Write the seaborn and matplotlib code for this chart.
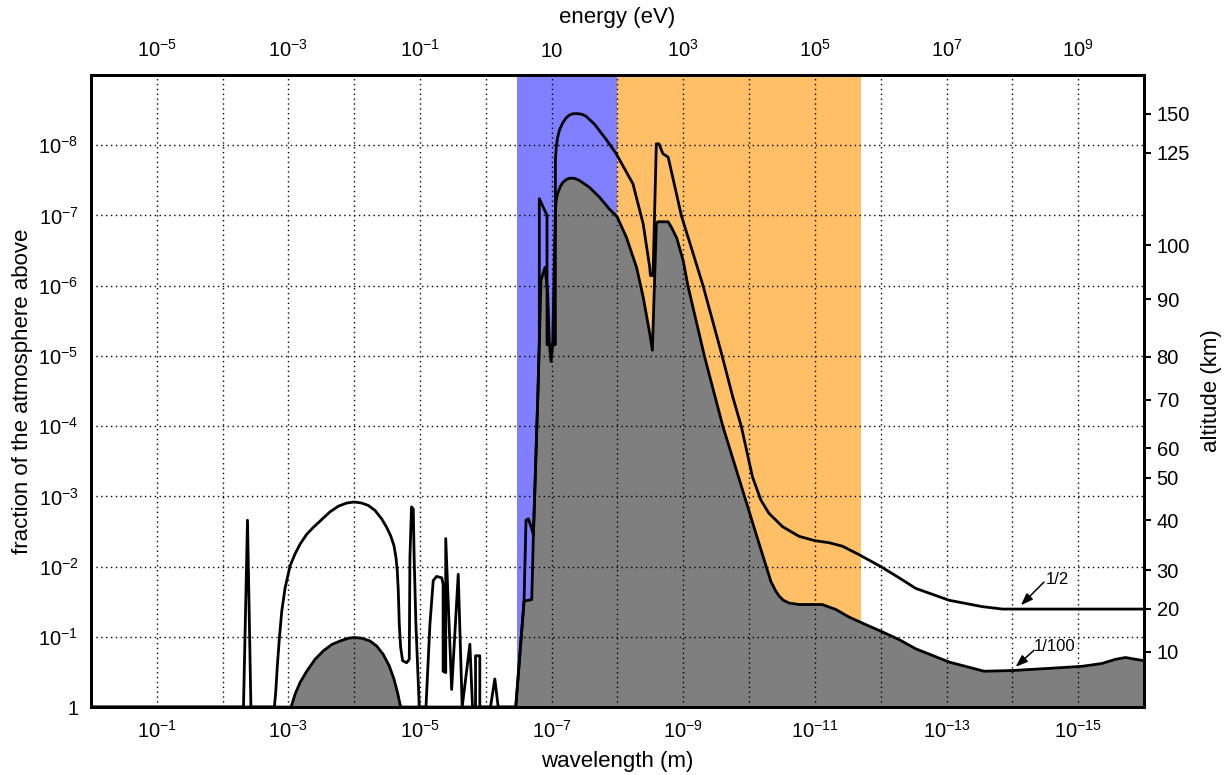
import numpy as np
import matplotlib
matplotlib.use("Agg")
import matplotlib.pyplot as plt
from matplotlib.ticker import NullLocator
import seaborn as sns

# ---------------- data ----------------
# log10 of wavelength (m) and log10 of fraction of the atmosphere above
half_log_wavelength = [
    0.0, -2.317, -2.378, -2.43,
    -2.787, -2.808, -2.833, -2.863, -2.899, -2.95, -3.025, -3.10, -3.177,
    -3.278, -3.38, -3.506, -3.632, -3.759, -3.885, -4.0, -4.113, -4.214,
    -4.315, -4.416, -4.492, -4.553, -4.603, -4.634, -4.654, -4.669, -4.684,
    -4.705, -4.735, -4.796, -4.836, -4.846, -4.87, -4.897, -4.91, -4.937,
    -4.988,
    -5.09, -5.15, -5.20, -5.25, -5.33, -5.35, -5.35, -5.39, -5.39, -5.48,
    -5.58, -5.64, -5.757, -5.797, -5.843, -5.843, -5.908, -5.908, -6.07,
    -6.136, -6.187, -6.454,
    -6.58, -6.61, -6.646, -6.697, -6.722, -6.79, -6.812, -6.812, -6.929,
    -6.929, -7.056, -7.056, -7.07, -7.09, -7.12, -7.168, -7.22, -7.27,
    -7.33, -7.396, -7.46, -7.52, -7.65,
    -7.83, -7.98, -8.235, -8.39, -8.49, -8.50, -8.54, -8.59, -8.63, -8.69,
    -8.77, -8.84, -8.97, -9.30, -9.59, -9.75, -9.88, -10.05, -10.177, -10.30,
    -10.506, -10.76, -10.997, -11.215, -11.418, -11.67, -12.0, -12.28,
    -12.53, -13.04, -13.54, -13.85, -16.0,
]
half_log_fraction = [
    0.0, 0.0, -2.66, 0.0,
    0.0, -0.23, -0.61, -0.99, -1.37, -1.70, -2.01, -2.18, -2.32,
    -2.46, -2.56, -2.67, -2.78, -2.86, -2.905, -2.92, -2.905, -2.87,
    -2.80, -2.68, -2.56, -2.44, -2.30, -2.13, -1.94, -1.66, -1.18,
    -0.85, -0.66, -0.63, -0.68, -2.13, -2.85, -2.82, -2.13, -1.18,
    0.0,
    0.0, -1.18, -1.80, -1.86, -1.84, -1.75, -0.51, -0.49, -2.40, -0.25,
    -1.89, 0.0, -0.895, 0.0, 0.0, -0.73, -0.73, 0.0, 0.0,
    -0.40, 0.0, 0.0,
    -1.51, -2.66, -2.68, -2.54, -2.45, -4.45, -5.18, -7.24, -7.0,
    -5.16, -5.16, -7.78, -7.98, -8.11, -8.22, -8.32, -8.39, -8.43,
    -8.45, -8.45, -8.44, -8.415, -8.30,
    -8.08, -7.88, -7.45, -6.88, -6.26, -6.145, -6.145, -8.02, -8.02, -7.88,
    -7.83, -7.54, -7.0, -6.0, -5.0, -4.42, -4.0, -3.28, -2.95, -2.76,
    -2.57, -2.43, -2.37, -2.34, -2.29, -2.17, -2.0, -1.84,
    -1.69, -1.52, -1.43, -1.395, -1.395,
]

hundredth_log_wavelength = [
    0.0, -3.04, -3.10, -3.177, -3.278, -3.405, -3.53, -3.658, -3.784, -3.91,
    -4.0, -4.113, -4.24, -4.34, -4.44, -4.53, -4.603, -4.659, -4.705,
    -6.454, -6.58, -6.697, -6.722, -6.79, -6.838, -6.898, -6.94, -6.964,
    -6.99, -7.015, -7.04, -7.056, -7.07, -7.09, -7.13, -7.168, -7.22, -7.27,
    -7.34, -7.42, -7.574,
    -7.726, -7.878, -7.995, -8.135, -8.29, -8.39, -8.49, -8.53, -8.59,
    -8.61, -8.77, -8.82, -8.9, -9.0, -9.07, -9.32, -9.60, -9.93, -10.15,
    -10.33, -10.4, -10.456, -10.52, -10.61, -10.76, -11.11, -11.316, -11.52,
    -11.77, -12.025, -12.28, -12.53, -13.04, -13.57, -14.0, -14.55, -15.06,
    -15.36, -15.57, -15.72, -15.87, -16.0,
]
hundredth_log_fraction = [
    0.0, 0.0, -0.18, -0.35, -0.51, -0.68, -0.80, -0.89, -0.94, -0.98,
    -0.99, -0.98, -0.94, -0.87, -0.75, -0.59, -0.40, -0.20, 0.0,
    0.0, -1.51, -1.53, -2.45, -4.45, -6.08, -6.26, -5.89, -5.18,
    -4.92, -5.14, -6.36, -7.07, -7.22, -7.31, -7.41, -7.47, -7.51, -7.53,
    -7.53, -7.50, -7.40,
    -7.26, -7.09, -6.98, -6.69, -6.26, -5.84, -5.32, -5.08, -6.88,
    -6.91, -6.91, -6.83, -6.68, -6.35, -6.0, -5.0, -4.0, -3.0, -2.33,
    -1.79, -1.66, -1.58, -1.52, -1.48, -1.46, -1.46, -1.39, -1.28,
    -1.175, -1.07, -0.96, -0.83, -0.64, -0.51, -0.52, -0.55, -0.58,
    -0.62, -0.68, -0.705, -0.68, -0.66,
]

# spectral bands (wavelength limits, m)
uv_band = (3.4e-7, 1.0e-8)
xray_band = (1.0e-8, 2.0e-12)

# axis ticks
wavelength_grid = [10.0 ** -k for k in range(1, 16)]
wavelength_ticks = [1e-1, 1e-3, 1e-5, 1e-7, 1e-9, 1e-11, 1e-13, 1e-15]
wavelength_labels = ["$10^{-1}$", "$10^{-3}$", "$10^{-5}$", "$10^{-7}$",
                     "$10^{-9}$", "$10^{-11}$", "$10^{-13}$", "$10^{-15}$"]
energy_ticks = [1e-5, 1e-3, 1e-1, 1e1, 1e3, 1e5, 1e7, 1e9]
energy_labels = ["$10^{-5}$", "$10^{-3}$", "$10^{-1}$", "10",
                 "$10^{3}$", "$10^{5}$", "$10^{7}$", "$10^{9}$"]
fraction_ticks = [1, 1e-1, 1e-2, 1e-3, 1e-4, 1e-5, 1e-6, 1e-7, 1e-8]
fraction_labels = ["1", "$10^{-1}$", "$10^{-2}$", "$10^{-3}$", "$10^{-4}$",
                   "$10^{-5}$", "$10^{-6}$", "$10^{-7}$", "$10^{-8}$"]
altitude_labels = ["150", "125", "100", "90", "80", "70", "60", "50",
                   "40", "30", "20", "10"]
altitude_log_fraction = [-8.447, -7.891, -6.573, -5.81, -4.99, -4.378,
                         -3.686, -3.262, -2.662, -1.95, -1.40, -0.79]

# annotation anchors (log10 wavelength, log10 fraction)
half_arrow_tail, half_arrow_head = (-14.48, -1.78), (-14.13, -1.45)
half_text_pos = (-14.50, -1.81)
hundredth_arrow_tail, hundredth_arrow_head = (-14.33, -0.81), (-14.05, -0.573)
hundredth_text_pos = (-14.33, -0.86)

# ---------------- style ----------------
sns.set_theme(style="white")
plt.rcParams["font.family"] = ["Liberation Sans", "DejaVu Sans"]
plt.rcParams["mathtext.fontset"] = "custom"
plt.rcParams["mathtext.rm"] = "Liberation Sans"
plt.rcParams["mathtext.it"] = "Liberation Sans:italic"
plt.rcParams["mathtext.bf"] = "Liberation Sans:bold"
plt.rcParams["axes.unicode_minus"] = False
for key in ["text.color", "axes.labelcolor", "xtick.color", "ytick.color",
            "axes.edgecolor"]:
    plt.rcParams[key] = "black"

BLUE = "#7f7fff"
ORANGE = "#ffbf66"
GRAY = "#7f7f7f"
TICK_FS = 14.5
LABEL_FS = 16

fig = plt.figure(figsize=(12.28, 7.75), dpi=100)
ax = fig.add_axes([0.0741, 0.0877, 0.8575, 0.8155])
ax.set_xscale("log")
ax.set_yscale("log")
ax.set_xlim(1.0, 1e-16)
ax.set_ylim(1.0, 1e-9)

lam_half = np.power(10.0, half_log_wavelength)
frac_half = np.power(10.0, half_log_fraction)
lam_hund = np.power(10.0, hundredth_log_wavelength)
frac_hund = np.power(10.0, hundredth_log_fraction)

# bands
ax.axvspan(uv_band[0], uv_band[1], color=BLUE, lw=0, zorder=0.5)
ax.axvspan(xray_band[0], xray_band[1], color=ORANGE, lw=0, zorder=0.5)

# gray filled region under the 1/100 curve
ax.fill_between(lam_hund, frac_hund, 1.0, color=GRAY, lw=0, zorder=1)

# curves
sns.lineplot(x=lam_hund, y=frac_hund, sort=False, estimator=None,
             color="black", lw=2.0, ax=ax, zorder=3)
sns.lineplot(x=lam_half, y=frac_half, sort=False, estimator=None,
             color="black", lw=2.0, ax=ax, zorder=3)

# grid
for w in wavelength_grid:
    ax.axvline(w, color="black", lw=1.0, ls=(0, (1, 2.5)), zorder=2)
for f in fraction_ticks[1:]:
    ax.axhline(f, color="black", lw=1.0, ls=(0, (1, 2.5)), zorder=2)
ax.grid(False)

# bottom axis
ax.set_xticks(wavelength_ticks)
ax.set_xticklabels(wavelength_labels)
ax.xaxis.set_minor_locator(NullLocator())
ax.tick_params(axis="x", which="both", length=0, pad=9, labelsize=TICK_FS)
ax.set_xlabel("wavelength (m)", fontsize=LABEL_FS, labelpad=7)

# left axis
ax.set_yticks(fraction_ticks)
ax.set_yticklabels(fraction_labels)
ax.yaxis.set_minor_locator(NullLocator())
ax.tick_params(axis="y", which="both", length=0, pad=9, labelsize=TICK_FS)
ax.set_ylabel("fraction of the atmosphere above", fontsize=LABEL_FS, labelpad=4)

for s in ax.spines.values():
    s.set_linewidth(2.0)
    s.set_color("black")

# top axis: energy
secx = ax.secondary_xaxis("top", functions=(lambda x: 1e-6 / np.clip(x, 1e-300, None),
                                             lambda e: 1e-6 / np.clip(e, 1e-300, None)))
secx.set_xticks(energy_ticks)
secx.set_xticklabels(energy_labels)
secx.xaxis.set_minor_locator(NullLocator())
secx.tick_params(axis="x", which="both", length=0, pad=10, labelsize=TICK_FS)
secx.set_xlabel("energy (eV)", fontsize=LABEL_FS, labelpad=12)
secx.spines["top"].set_linewidth(2.0)
secx.spines["top"].set_color("black")

# right axis: altitude
ax2 = ax.twinx()
ax2.set_yscale("log")
ax2.set_ylim(ax.get_ylim())
ax2.set_yticks(np.power(10.0, altitude_log_fraction))
ax2.set_yticklabels(altitude_labels)
ax2.yaxis.set_minor_locator(NullLocator())
ax2.tick_params(axis="y", which="both", direction="out", length=5, width=1.5,
                pad=4, labelsize=TICK_FS, right=True, colors="black")
ax2.set_ylabel("altitude (km)", fontsize=LABEL_FS, labelpad=8)
ax2.grid(False)
for s in ax2.spines.values():
    s.set_linewidth(2.0)
    s.set_color("black")

# annotations
def p(pt):
    return (10.0 ** pt[0], 10.0 ** pt[1])

arrow_kw = dict(arrowstyle="-|>,head_length=0.6,head_width=0.22", color="black", lw=1.1,
                shrinkA=0, shrinkB=0)
ax.annotate("", xy=p(half_arrow_head), xytext=p(half_arrow_tail), arrowprops=arrow_kw, zorder=5)
ax.annotate("", xy=p(hundredth_arrow_head), xytext=p(hundredth_arrow_tail), arrowprops=arrow_kw, zorder=5)
ax.text(*p(half_text_pos), "1/2", fontsize=12, ha="left", va="center", zorder=5)
ax.text(*p(hundredth_text_pos), "1/100", fontsize=12, ha="left", va="center", zorder=5)

fig.savefig("out.png", dpi=100)
